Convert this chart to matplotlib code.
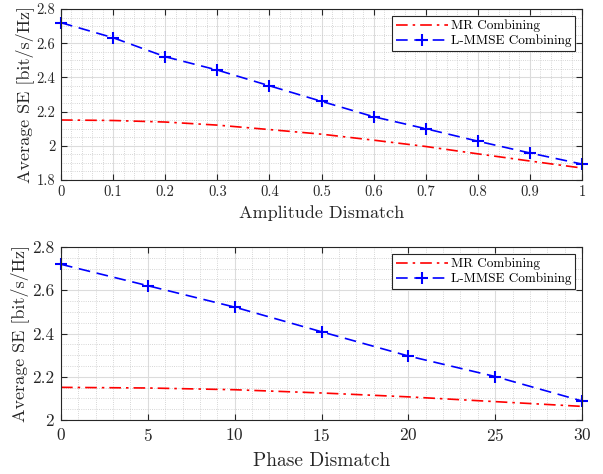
import numpy as np
import matplotlib
matplotlib.use("Agg")
import matplotlib.pyplot as plt
from matplotlib.ticker import MultipleLocator

plt.rcParams['font.family'] = 'serif'
plt.rcParams['font.serif'] = ['cmr10']
plt.rcParams['mathtext.fontset'] = 'cm'
plt.rcParams['axes.formatter.use_mathtext'] = True

# amplitude dismatch
amp_x = [0, 0.1, 0.2, 0.3, 0.4, 0.5, 0.6, 0.7, 0.8, 0.9, 1.0]
amp_mr = [2.151, 2.148, 2.139, 2.121, 2.095, 2.068, 2.033, 1.996, 1.953, 1.911, 1.870]
amp_lmmse = [2.720, 2.632, 2.521, 2.443, 2.351, 2.260, 2.170, 2.100, 2.027, 1.958, 1.893]

# phase dismatch
ph_x = [0, 5, 10, 15, 20, 25, 30]
ph_mr = [2.151, 2.148, 2.140, 2.125, 2.107, 2.085, 2.063]
ph_lmmse = [2.720, 2.621, 2.522, 2.408, 2.296, 2.201, 2.088]

fig = plt.figure(figsize=(6.03, 4.74), dpi=100)
ax1 = fig.add_axes([61/603, 1 - 180/474, 521/603, 171/474])
ax2 = fig.add_axes([61/603, 1 - 420/474, 521/603, 173/474])


def draw(ax, x, mr, lmmse):
    ax.plot(x, mr, color='red', linestyle='-.', dashes=(7, 3, 1.5, 3), linewidth=1.2,
            label='MR Combining')
    ax.plot(x, lmmse, color='blue', linestyle='--', dashes=(7, 4), linewidth=1.2,
            marker='+', markersize=9, markeredgewidth=1.5, clip_on=False,
            label='L-MMSE Combining')


def style_axis(ax, xlim, ylim, xmaj, xmin, ymaj, ymin, xlabel, tsize, lsize, pad, lpad):
    ax.set_xlim(xlim)
    ax.set_ylim(ylim)
    ax.xaxis.set_major_locator(MultipleLocator(xmaj))
    ax.xaxis.set_minor_locator(MultipleLocator(xmin))
    ax.yaxis.set_major_locator(MultipleLocator(ymaj))
    ax.yaxis.set_minor_locator(MultipleLocator(ymin))
    ax.grid(which='major', color='#dcdcdc', linestyle='-', linewidth=0.8)
    ax.grid(which='minor', color='#c8c8c8', linestyle=':', linewidth=0.6)
    ax.set_axisbelow(True)
    ax.tick_params(which='both', direction='in', top=True, right=True,
                   labelsize=tsize, colors='#262626', pad=pad)
    ax.tick_params(which='major', length=4)
    ax.tick_params(which='minor', length=0)
    for s in ax.spines.values():
        s.set_color('#262626')
        s.set_linewidth(0.8)
    ax.set_xlabel(xlabel, fontsize=lsize, color='#262626', labelpad=lpad)
    ax.set_ylabel('Average SE [bit/s/Hz]', fontsize=13, color='#262626', labelpad=2)
    leg = ax.legend(loc='upper right', fontsize=9.5, fancybox=False,
                    framealpha=1, edgecolor='#262626', handlelength=4.0,
                    borderaxespad=0.5, handletextpad=0.2, borderpad=0.3,
                    labelspacing=0.2)
    leg.get_frame().set_linewidth(0.8)


draw(ax1, amp_x, amp_mr, amp_lmmse)
style_axis(ax1, (0, 1), (1.8, 2.8), 0.1, 0.02, 0.2, 0.05, 'Amplitude Dismatch',
           10.5, 13, 4, 4)
ax1.set_yticks([1.8, 2, 2.2, 2.4, 2.6, 2.8])
ax1.set_yticklabels(['1.8', '2', '2.2', '2.4', '2.6', '2.8'])
ax1.set_xticks(amp_x)
ax1.set_xticklabels(['0', '0.1', '0.2', '0.3', '0.4', '0.5', '0.6', '0.7', '0.8', '0.9', '1'])

draw(ax2, ph_x, ph_mr, ph_lmmse)
style_axis(ax2, (0, 30), (2.0, 2.8), 5, 1, 0.2, 0.05, 'Phase Dismatch',
           12.5, 14, 5, 6)
ax2.set_yticks([2, 2.2, 2.4, 2.6, 2.8])
ax2.set_yticklabels(['2', '2.2', '2.4', '2.6', '2.8'])

fig.savefig('out.png', dpi=100)
